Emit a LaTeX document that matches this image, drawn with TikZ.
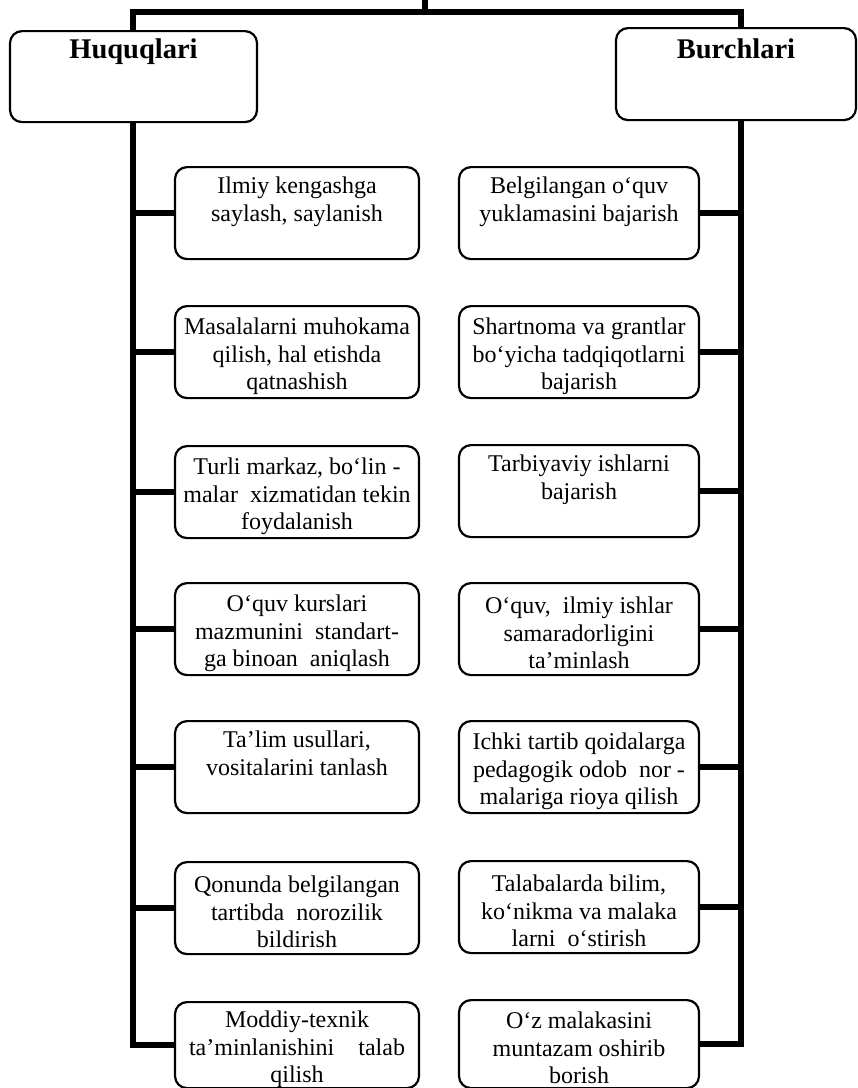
\documentclass[tikz,border=0pt]{standalone}
\usepackage{fontspec}
\setmainfont{Liberation Serif}
\usetikzlibrary{backgrounds}
\newcommand\firstl{\rule{0pt}{25pt}}
\begin{document}
\begin{tikzpicture}[x=1pt,y=-1pt,
  item/.style={draw, line width=2.2pt, rounded corners=12pt, fill=white, align=center,
    font=\fontsize{24}{27.5}\selectfont, inner sep=0pt, anchor=north, minimum height=92pt},
  litem/.style={item, minimum width=244pt},
  ritem/.style={item, minimum width=240pt},
  head/.style={draw, line width=2.2pt, rounded corners=12pt, fill=white,
    font=\fontsize{28.5}{32}\selectfont\bfseries, inner sep=0pt, anchor=north,
    text depth=64pt},
  trunk/.style={line width=5.5pt, line join=miter}]
\useasboundingbox (0,0) rectangle (858,1088);

\node[head, minimum width=247pt, text height=27pt] (H) at (133.5,30) {Huquqlari};
\node[head, minimum width=240pt, text height=30pt, text depth=62pt] (B) at (736,27) {Burchlari};

\node[litem] (L1) at (297,166) {\firstl Ilmiy kengashga\\saylash, saylanish\\\strut};
\node[litem] (L2) at (297,305) {\firstl Masalalarni muhokama\\qilish, hal etishda\\qatnashish};
\node[litem] (L3) at (297,445) {\firstl Turli markaz, bo‘lin -\\malar~ xizmatidan tekin\\foydalanish};
\node[litem] (L4) at (297,582) {\firstl O‘quv kurslari\\mazmunini~ standart-\\ga binoan~ aniqlash};
\node[litem] (L5) at (297,720) {\firstl Ta’lim usullari,\\vositalarini tanlash\\\strut};
\node[litem] (L6) at (297,861) {\firstl Qonunda belgilangan\\tartibda~ norozilik\\bildirish};
\node[litem, minimum height=86pt] (L7) at (297,1001) {\firstl Moddiy-texnik\\ta’minlanishini~~~ talab\\qilish};

\node[ritem] (R1) at (579,166) {\firstl Belgilangan o‘quv\\yuklamasini bajarish\\\strut};
\node[ritem] (R2) at (579,305) {\firstl Shartnoma va grantlar\\bo‘yicha tadqiqotlarni\\bajarish};
\node[ritem] (R3) at (579,444) {\firstl Tarbiyaviy ishlarni\\bajarish\\\strut};
\node[ritem] (R4) at (579,582) {\firstl O‘quv,~ ilmiy ishlar\\samaradorligini\\ta’minlash};
\node[ritem] (R5) at (579,720) {\firstl Ichki tartib qoidalarga\\pedagogik odob~ nor -\\malariga rioya qilish};
\node[ritem] (R6) at (579,860) {\firstl Talabalarda bilim,\\ko‘nikma va malaka\\larni~ o‘stirish};
\node[ritem, minimum height=88pt] (R7) at (579,999) {\firstl O‘z malakasini\\muntazam oshirib\\borish};

\coordinate (top) at (425,0);
\coordinate (tj) at (425,12);
\coordinate (ltop) at (133,12);
\coordinate (rtop) at (741,12);

\begin{scope}[on background layer]
\draw[trunk] (top) -- (tj);
\draw[trunk] (L7.west) -| (ltop) -- (rtop) |- (R7.east);
\foreach \n in {1,...,6} {
  \draw[trunk] (L\n.west) -- (L\n.west -| ltop);
  \draw[trunk] (R\n.east) -- (R\n.east -| rtop);
}
\end{scope}
\end{tikzpicture}
\end{document}
